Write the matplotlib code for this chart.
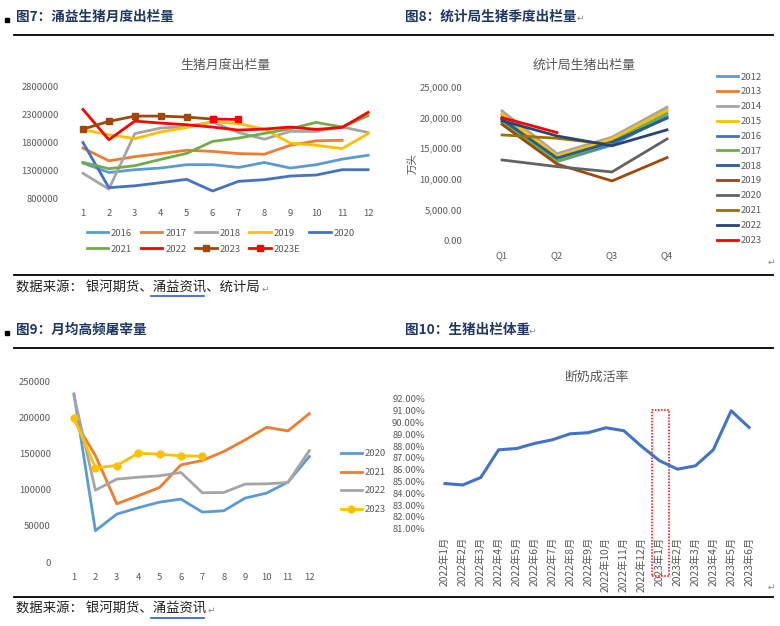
import numpy as np
import matplotlib.pyplot as plt
from matplotlib.lines import Line2D
from matplotlib.patches import Rectangle

plt.rcParams['font.family'] = ['Noto Sans CJK SC', 'DejaVu Sans']

W, H = 780, 626

# ---- 图7: 涌益生猪月度出栏量 ----
months = list(range(1, 13))
hog_monthly = {
    '2016': [1430000, 1260000, 1310000, 1340000, 1400000, 1400000, 1350000, 1440000, 1340000, 1400000, 1500000, 1570000],
    '2017': [1700000, 1470000, 1545000, 1600000, 1660000, 1640000, 1600000, 1590000, 1750000, 1830000, 1840000, np.nan],
    '2018': [1245000, 960000, 1960000, 2060000, 2090000, 2170000, 1980000, 1860000, 2000000, 2000000, 2080000, 1980000],
    '2019': [2030000, 1940000, 1870000, 1990000, 2070000, 2170000, 2140000, 2040000, 1790000, 1750000, 1690000, 1960000],
    '2020': [1800000, 986000, 1020000, 1076000, 1136000, 926000, 1100000, 1130000, 1196000, 1214000, 1310000, 1310000],
    '2021': [1442000, 1328000, 1382000, 1496000, 1604000, 1820000, 1880000, 1964000, 2048000, 2162000, 2078000, 2282000],
    '2022': [2396000, 1850000, 2186000, 2150000, 2120000, 2078000, 2024000, 2042000, 2078000, 2036000, 2072000, 2342000],
    '2023': [2042000, 2180000, 2276000, 2276000, 2258000, 2222000, np.nan, np.nan, np.nan, np.nan, np.nan, np.nan],
    '2023E': [np.nan, np.nan, np.nan, np.nan, np.nan, 2222000, 2215000, np.nan, np.nan, np.nan, np.nan, np.nan],
}
colors7 = {'2016': '#5B9BD5', '2017': '#ED7D31', '2018': '#A5A5A5', '2019': '#FFC000', '2020': '#4472C4',
           '2021': '#70AD47', '2022': '#FF0000', '2023': '#9E480E', '2023E': '#FF0000'}

# ---- 图8: 统计局生猪季度出栏量 ----
quarters = ['Q1', 'Q2', 'Q3', 'Q4']
hog_quarterly = {
    '2012': [20000, 12800, 15500, 20300],
    '2013': [20500, 13800, 16400, 21300],
    '2014': [21100, 14100, 16800, 21700],
    '2015': [20600, 13700, 16500, 21200],
    '2016': [19800, 13000, 15700, 20000],
    '2017': [19200, 12900, 16000, 20700],
    '2018': [19700, 13400, 16000, 19900],
    '2019': [18900, 12400, 9650, 13460],
    '2020': [13080, 11990, 11120, 16510],
    '2021': [17170, 16620, 15600, np.nan],
    '2022': [19500, 17000, 15400, 18000],
    '2023': [20000, 17550, np.nan, np.nan],
}
colors8 = {'2012': '#5B9BD5', '2013': '#ED7D31', '2014': '#A5A5A5', '2015': '#FFC000', '2016': '#4472C4',
           '2017': '#70AD47', '2018': '#255E91', '2019': '#9E480E', '2020': '#636363', '2021': '#997300',
           '2022': '#264478', '2023': '#FF0000'}

# ---- 图9: 月均高频屠宰量 ----
slaughter = {
    '2020': [233000, 43400, 66400, 75200, 83000, 87200, 69200, 71000, 88600, 95500, 110700, 146200],
    '2021': [197000, 147600, 80700, 91800, 103300, 134700, 140700, 153200, 169300, 186800, 181800, 205700],
    '2022': [230600, 99600, 114900, 117600, 119500, 124100, 96000, 96400, 108000, 108400, 110300, 154500],
    '2023': [200200, 130500, 133800, 150800, 149500, 147200, 146700, np.nan, np.nan, np.nan, np.nan, np.nan],
}
colors9 = {'2020': '#5B9BD5', '2021': '#ED7D31', '2022': '#A5A5A5', '2023': '#FFC000'}

# ---- 图10: 断奶成活率 ----
wean_months = ['2022年1月', '2022年2月', '2022年3月', '2022年4月', '2022年5月', '2022年6月',
               '2022年7月', '2022年8月', '2022年9月', '2022年10月', '2022年11月', '2022年12月',
               '2023年1月', '2023年2月', '2023年3月', '2023年4月', '2023年5月', '2023年6月']
wean_rate = [84.83, 84.71, 85.34, 87.69, 87.80, 88.23, 88.54, 89.05, 89.14, 89.56, 89.31, 87.97,
             86.76, 86.05, 86.33, 87.69, 91.00, 89.59]

tick_color = '#595959'
title_color = '#1F3864'


def px_axes(l, t, r, b):
    ax = fig.add_axes([l / W, 1 - b / H, (r - l) / W, (b - t) / H])
    for s in ax.spines.values():
        s.set_visible(False)
    ax.tick_params(length=0, colors=tick_color, labelsize=6.8)
    return ax


def ftext(x, y, s, **kw):
    fig.text(x / W, 1 - y / H, s, **kw)


def hline(x0, x1, y, color='black', lw=1.3):
    fig.add_artist(Line2D([x0 / W, x1 / W], [1 - y / H, 1 - y / H], transform=fig.transFigure, color=color, lw=lw))


fig = plt.figure(figsize=(W / 100, H / 100), dpi=100)

# headers, rules, sources
for y in [35, 275, 348, 597]:
    hline(14, 773, y)
for y in [20, 333]:
    fig.add_artist(Rectangle((5 / W, 1 - (y + 2) / H), 4 / W, 4 / H, transform=fig.transFigure, color='black'))
hdr = dict(fontsize=9.8, fontweight='bold', color=title_color, va='center', ha='left')
ftext(16, 17, '图7：涌益生猪月度出栏量', **hdr)
ftext(405, 17, '图8：统计局生猪季度出栏量', **hdr)
ftext(16, 330, '图9：月均高频屠宰量', **hdr)
ftext(405, 330, '图10：生猪出栏体重', **hdr)
ret = dict(fontsize=6.5, color='#888888', va='center')
ftext(577, 18, '↵', **ret)
ftext(529, 331, '↵', **ret)
ftext(768, 262, '↵', **ret)
ftext(768, 587, '↵', **ret)

src = dict(fontsize=9.6, color='#222222', va='center', ha='left')
ftext(16, 288, '数据来源： 银河期货、涌益资讯、统计局', **src)
ftext(16, 609, '数据来源： 银河期货、涌益资讯', **src)
ftext(262, 289, '↵', **ret)
ftext(208, 610, '↵', **ret)
hline(151, 204, 296, color='#2E5BD8', lw=1.2)
hline(151, 204, 618, color='#2E5BD8', lw=1.2)

# ---- panel 7 ----
ax7 = px_axes(70, 87, 381, 198)
order7 = ['2016', '2021', '2017', '2022', '2018', '2023', '2019', '2023E', '2020']
handles7 = {}
for name, vals in hog_monthly.items():
    mk = 's' if name.startswith('2023') else None
    ln, = ax7.plot(months, vals, color=colors7[name], lw=2.0, marker=mk, markersize=4.5, label=name)
    handles7[name] = ln
ax7.set_xlim(0.5, 12.5)
ax7.set_ylim(800000, 2800000)
ax7.set_xticks(months)
ax7.set_yticks([800000, 1300000, 1800000, 2300000, 2800000])
ax7.set_yticklabels(['800000', '1300000', '1800000', '2300000', '2800000'])
ax7.tick_params(axis='y', pad=8)
ax7.tick_params(axis='x', pad=8)
ax7.set_title('生猪月度出栏量', fontsize=9.3, color=tick_color, pad=13)
ax7.legend([handles7[k] for k in order7], order7, ncol=5, frameon=False, fontsize=6.8,
           loc='upper left', bbox_to_anchor=(78 / W, 1 - 220 / H), bbox_transform=fig.transFigure,
           handlelength=2.3, handletextpad=0.3, columnspacing=0.9, labelspacing=0.75,
           labelcolor=tick_color)

# ---- panel 8 ----
ax8 = px_axes(474.5, 87, 694.5, 240)
for name, vals in hog_quarterly.items():
    ax8.plot(range(4), vals, color=colors8[name], lw=2.0, label=name)
ax8.set_xlim(-0.5, 3.5)
ax8.set_ylim(0, 25000)
ax8.set_xticks(range(4))
ax8.set_xticklabels(quarters)
ax8.set_yticks(range(0, 25001, 5000))
ax8.set_yticklabels([f'{v:,.2f}' for v in range(0, 25001, 5000)])
ax8.tick_params(axis='y', pad=9)
ax8.tick_params(axis='x', pad=8)
ax8.set_title('统计局生猪出栏量', fontsize=9.3, color=tick_color, pad=13)
ax8.set_ylabel('万头', fontsize=7.5, color=tick_color, labelpad=1)
ax8.legend(frameon=False, fontsize=6.8, loc='upper left', bbox_to_anchor=(708 / W, 1 - 64 / H),
           bbox_transform=fig.transFigure, handlelength=2.3, handletextpad=0.2, labelspacing=0.62,
           labelcolor=tick_color)

# ---- panel 9 ----
ax9 = px_axes(63.3, 381.7, 320, 562)
for name, vals in slaughter.items():
    mk = 'o' if name == '2023' else None
    ax9.plot(months, vals, color=colors9[name], lw=2.0, marker=mk, markersize=5, label=name)
ax9.set_xlim(0.5, 12.5)
ax9.set_ylim(0, 250000)
ax9.set_xticks(months)
ax9.set_yticks(range(0, 250001, 50000))
ax9.tick_params(axis='y', pad=9)
ax9.tick_params(axis='x', pad=8)
ax9.legend(frameon=False, fontsize=6.8, loc='upper left', bbox_to_anchor=(332 / W, 1 - 441 / H),
           bbox_transform=fig.transFigure, handlelength=2.3, handletextpad=0.2, labelspacing=1.0,
           labelcolor=tick_color)

# ---- panel 10 ----
ax10 = px_axes(436, 399, 758, 528.7)
xs = np.arange(len(wean_months))
ax10.plot(xs, wean_rate, color='#4472C4', lw=2.2)
ax10.set_xlim(-0.5, len(wean_months) - 0.5)
ax10.set_ylim(81, 92)
ax10.set_yticks(range(81, 93))
ax10.set_yticklabels([f'{v:.2f}%' for v in range(81, 93)])
ax10.set_xticks(xs)
ax10.set_xticklabels(wean_months, rotation=90, fontsize=7.4)
ax10.tick_params(axis='y', pad=8)
ax10.tick_params(axis='x', pad=6)
ax10.set_title('断奶成活率', fontsize=9.3, color=tick_color, pad=13)
ax10.add_patch(Rectangle((11.55, 77.0), 1.0, 91.04 - 77.0, fill=False, edgecolor='#FF0000',
                         lw=1.1, linestyle=(0, (1, 1)), clip_on=False))

fig.savefig('out.png', dpi=100)
